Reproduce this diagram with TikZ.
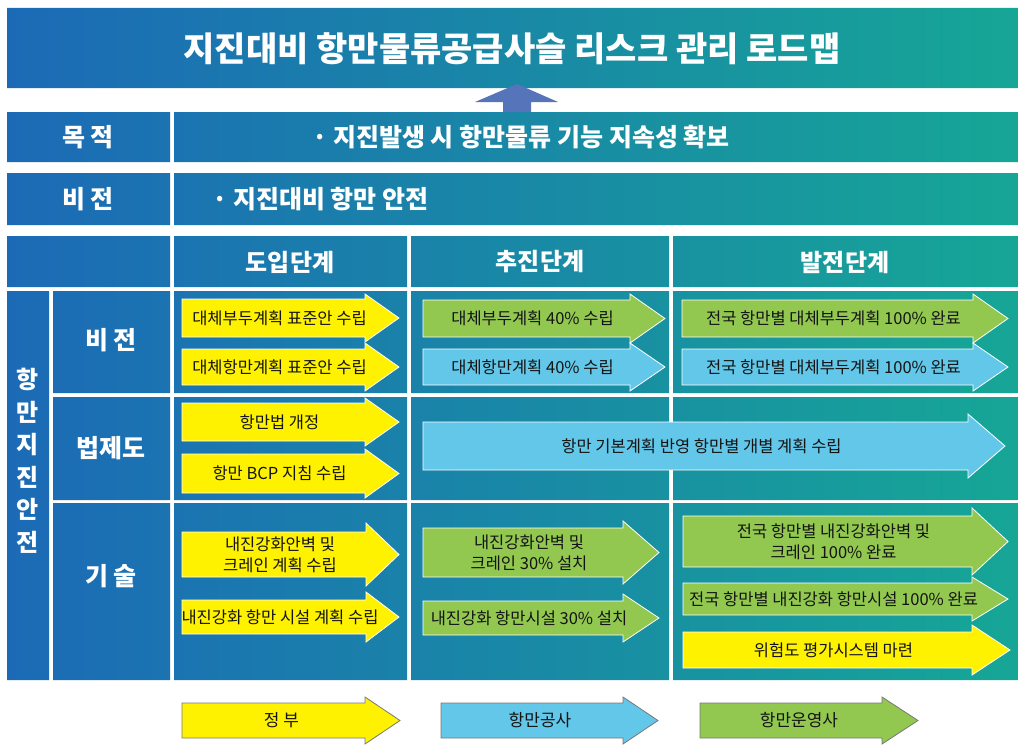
\documentclass[tikz,border=0pt]{standalone}
\usepackage{fontspec}
\newfontfamily\kr{Noto Sans CJK KR}
\definecolor{gl}{RGB}{28,106,182}
\definecolor{gr}{RGB}{22,166,150}
\definecolor{ayel}{RGB}{255,242,0}
\definecolor{agrn}{RGB}{146,200,80}
\definecolor{ablu}{RGB}{98,199,232}
\definecolor{upc}{RGB}{86,116,186}
\definecolor{txtc}{RGB}{20,20,20}
\definecolor{lgray}{RGB}{120,120,120}
\tikzset{
  tbl/.style={line width=0.8pt, draw=white, line join=miter},
  leg/.style={line width=0.8pt, draw=lgray, line join=miter},
  arrtxt/.style={font=\kr\fontsize{16.5}{21}\selectfont, text=txtc, align=center, inner sep=0pt},
  legtxt/.style={font=\kr\fontsize{17}{21}\selectfont, text=txtc, align=center, inner sep=0pt},
  wlab/.style={font=\kr\bfseries\fontsize{25}{30}\selectfont, text=white, align=center, inner sep=0pt},
  hlab/.style={font=\kr\bfseries\fontsize{24}{30}\selectfont, text=white, align=center, inner sep=0pt},
  ttl/.style={font=\kr\bfseries\fontsize{34}{40}\selectfont, text=white, inner sep=0pt}
}
% #1 name, #2 style, #3 x-left, #4 x-body-end, #5 tip x, #6 y-top, #7 y-bottom, #8 head extend, #9 text
\newcommand{\flowarrow}[9]{%
  \draw[#2] (#3,#6) -- (#4,#6) -- (#4,{#6-#8}) -- (#5,{(#6+#7)/2}) -- (#4,{#7+#8}) -- (#4,#7) -- (#3,#7) -- cycle;
  \node[arrtxt] (#1) at ({(#3+#4)/2+6},{(#6+#7)/2}) {#9};
}
\newcommand{\legarrow}[6]{%
  \draw[leg, fill=#2] (#3,703) -- (#4,703) -- (#4,697) -- (#5,720.5) -- (#4,744) -- (#4,738) -- (#3,738) -- cycle;
  \node[legtxt] (#1) at ({(#3+#4)/2+8},720.5) {#6};
}
\begin{document}
\begin{tikzpicture}[x=1pt,y=-1pt]
\useasboundingbox (0,0) rectangle (1024,752);
\fill[white] (0,0) rectangle (1024,752);
% gradient cells
\begin{scope}
\clip (7,8) rectangle (1018,88)
      (7,112) rectangle (170,162) (174,112) rectangle (1018,162)
      (7,173) rectangle (170,225) (174,173) rectangle (1018,225)
      (7,236) rectangle (170,287) (174,236) rectangle (407,287) (411,236) rectangle (669,287) (673,236) rectangle (1018,287)
      (7,291) rectangle (49,680)
      (53,291) rectangle (170,393) (53,397) rectangle (170,500) (53,503) rectangle (170,680)
      (174,291) rectangle (407,393) (411,291) rectangle (669,393) (673,291) rectangle (1018,393)
      (174,397) rectangle (407,500) (411,397) rectangle (669,500) (673,397) rectangle (1018,500)
      (174,503) rectangle (407,680) (411,503) rectangle (669,680) (673,503) rectangle (1018,680);
\shade[left color=gl, right color=gr] (7,8) rectangle (1018,680);
\end{scope}
% up arrow
\fill[upc] (517,84) -- (558,102) -- (531,102) -- (531,112) -- (503,112) -- (503,102) -- (475,102) -- cycle;
% title and rows
\node[ttl] (title) at (512,49) {지진대비 항만물류공급사슬 리스크 관리 로드맵};
\node[wlab] (goalL) at (88,137) {목 적};
\node[wlab] (goalT) at (521,137) {· 지진발생 시 항만물류 기능 지속성 확보};
\node[wlab] (visL) at (88,199) {비 전};
\node[wlab, anchor=west] (visT) at (212,199) {· 지진대비 항만 안전};
\node[hlab] (ph1) at (290,262) {도입단계};
\node[hlab] (ph2) at (540,262) {추진단계};
\node[hlab] (ph3) at (845,262) {발전단계};
\node[font=\kr\bfseries\fontsize{24}{32.5}\selectfont, text=white, align=center, inner sep=0pt] (side) at (28,461) {항\\만\\지\\진\\안\\전};
\node[wlab] (rowA) at (111,340) {비 전};
\node[wlab] (rowB) at (111,448) {법제도};
\node[wlab] (rowC) at (111,576) {기 술};
% phase 1
\flowarrow{a1}{tbl, fill=ayel}{182}{365}{399}{299}{337}{5}{대체부두계획 표준안 수립}
\flowarrow{a2}{tbl, fill=ayel}{182}{365}{399}{349}{385}{6}{대체항만계획 표준안 수립}
\flowarrow{a3}{tbl, fill=ayel}{182}{365}{399}{403}{441}{5}{항만법 개정}
\flowarrow{a4}{tbl, fill=ayel}{182}{365}{399}{454}{493}{5}{항만 BCP 지침 수립}
\flowarrow{a5}{tbl, fill=ayel}{182}{366}{399}{532}{577}{9}{내진강화안벽 및\\크레인 계획 수립}
\flowarrow{a6}{tbl, fill=ayel}{182}{366}{399}{600}{634}{8}{내진강화 항만 시설 계획 수립}
% phase 2
\flowarrow{b1}{tbl, fill=agrn}{423}{630}{665}{300}{337}{6}{대체부두계획 40\% 수립}
\flowarrow{b2}{tbl, fill=ablu}{423}{630}{665}{349}{385}{6}{대체항만계획 40\% 수립}
\flowarrow{bb}{tbl, fill=ablu}{423}{968}{1005}{422}{470}{8}{항만 기본계획 반영 항만별 개별 계획 수립}
\flowarrow{b3}{tbl, fill=agrn}{423}{623}{659}{528}{577}{7}{내진강화안벽 및\\크레인 30\% 설치}
\flowarrow{b4}{tbl, fill=agrn}{423}{623}{659}{601}{635}{7}{내진강화 항만시설 30\% 설치}
% phase 3
\flowarrow{c1}{tbl, fill=agrn}{682}{973}{1008}{300}{337}{6}{전국 항만별 대체부두계획 100\% 완료}
\flowarrow{c2}{tbl, fill=ablu}{682}{973}{1008}{349}{385}{6}{전국 항만별 대체부두계획 100\% 완료}
\flowarrow{c3}{tbl, fill=agrn}{683}{972}{1008}{516}{567}{8}{전국 항만별 내진강화안벽 및\\크레인 100\% 완료}
\flowarrow{c4}{tbl, fill=agrn}{683}{972}{1008}{583}{615}{6}{전국 항만별 내진강화 항만시설 100\% 완료}
\flowarrow{c5}{tbl, fill=ayel}{683}{972}{1010}{632}{668}{7}{위험도 평가시스템 마련}
% legend
\legarrow{lg1}{ayel}{182}{365}{400}{정 부}
\legarrow{lg2}{ablu}{441}{623}{658}{항만공사}
\legarrow{lg3}{agrn}{700}{882}{918}{항만운영사}
\end{tikzpicture}
\end{document}
